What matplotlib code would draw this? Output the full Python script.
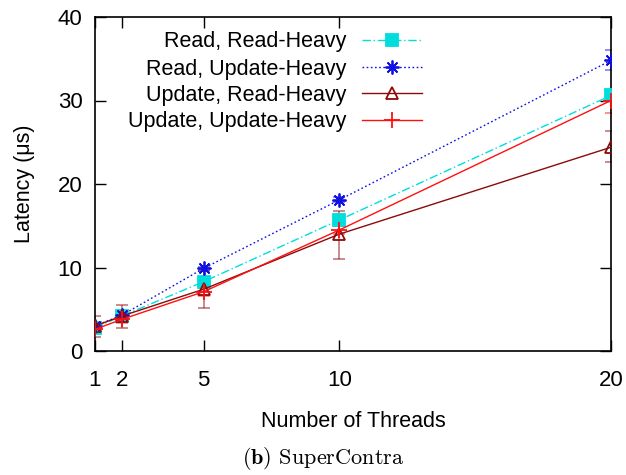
import matplotlib
matplotlib.use("Agg")
import matplotlib.pyplot as plt
from matplotlib.legend import Legend
import numpy as np

threads = [1, 2, 5, 10, 20]
labels = ["Read, Read-Heavy", "Read, Update-Heavy", "Update, Read-Heavy", "Update, Update-Heavy"]

rr_mean = [2.8, 4.2, 8.3, 15.7, 30.6]
rr_lo = [2.5, 3.9, 7.8, 15.1, 30.0]
rr_hi = [3.1, 4.5, 8.8, 16.3, 31.2]

ru_mean = [3.0, 4.3, 9.9, 18.1, 34.8]
ru_lo = [2.8, 4.0, 9.7, 17.8, 33.6]
ru_hi = [3.2, 4.6, 10.1, 18.4, 36.0]

ur_mean = [3.0, 4.2, 7.4, 14.0, 24.4]
ur_lo = [1.7, 2.8, 5.2, 11.0, 22.6]
ur_hi = [4.2, 5.5, 9.6, 16.8, 26.3]

uu_mean = [2.6, 3.8, 7.1, 14.5, 30.0]
uu_lo = [2.3, 3.4, 6.6, 14.0, 28.5]
uu_hi = [2.9, 4.2, 7.6, 15.0, 31.1]

yticks = [0, 10, 20, 30, 40]
xticks = [1, 2, 5, 10, 20]

plt.rcParams['font.family'] = ['Liberation Sans', 'DejaVu Sans']

fig = plt.figure(figsize=(6.26, 4.75), dpi=100)
ax = fig.add_axes([95/626, 1-351/475, (611-95)/626, (351-17)/475])

series = [
    (rr_mean, rr_lo, rr_hi, '#00dddd', (0, (6, 2, 1, 2)), 's', 8.5, 'full'),
    (ru_mean, ru_lo, ru_hi, '#1010e0', (0, (1.2, 1.8)), (8, 2, 0), 10, 'full'),
    (ur_mean, ur_lo, ur_hi, '#8b0a0a', '-', '^', 8, 'none'),
    (uu_mean, uu_lo, uu_hi, '#ff1010', '-', '+', 11, 'full'),
]

handles = []
for (m, lo, hi, c, ls, mk, ms, fill), lab in zip(series, labels):
    m = np.array(m); lo = np.array(lo); hi = np.array(hi)
    ax.errorbar(threads, m, yerr=[m - lo, hi - m], fmt='none', ecolor=c,
                elinewidth=1.2, capsize=4.5, capthick=1.2, alpha=0.55, zorder=2)
    kw = {}
    if fill == 'none':
        kw = dict(markerfacecolor='none')
    h, = ax.plot(threads, m, color=c, linestyle=ls, linewidth=1.0,
                 marker=mk, markersize=ms, markeredgewidth=1.3, label=lab, zorder=3, **kw)
    handles.append(h)

ax.set_xlim(1, 20)
ax.set_ylim(0, 40)
ax.set_xticks(xticks)
ax.set_xticklabels([str(t) for t in xticks])
ax.set_yticks(yticks)
ax.tick_params(direction='in', length=8, width=1, top=True, right=True, labelsize=16)
ax.tick_params(axis='x', pad=14)
ax.tick_params(axis='y', pad=9)
for s in ax.spines.values():
    s.set_linewidth(1.2)

ax.set_xlabel("Number of Threads", fontsize=15.5, labelpad=14)
ax.set_ylabel("Latency (μs)", fontsize=15.5, labelpad=16)

# legend: one entry per row, text right-aligned against the sample
row_y = [42, 69, 95.5, 122]
x_right = (422 - 95) / 516
for h, lab, yp in zip(handles, labels, row_y):
    lg = Legend(ax, [h], [lab], loc='center right',
                bbox_to_anchor=(x_right, 1 - (yp - 17) / 334),
                frameon=False, fontsize=15.5, markerfirst=False,
                handlelength=2.8, handletextpad=0.7, borderpad=0, borderaxespad=0)
    ax.add_artist(lg)

fig.text(323/626, 1-459/475, r"$\mathbf{(b)}$ SuperContra", ha='center', va='center',
         fontsize=16, family='cmr10', math_fontfamily='cm')

fig.savefig("out.png", dpi=100)
